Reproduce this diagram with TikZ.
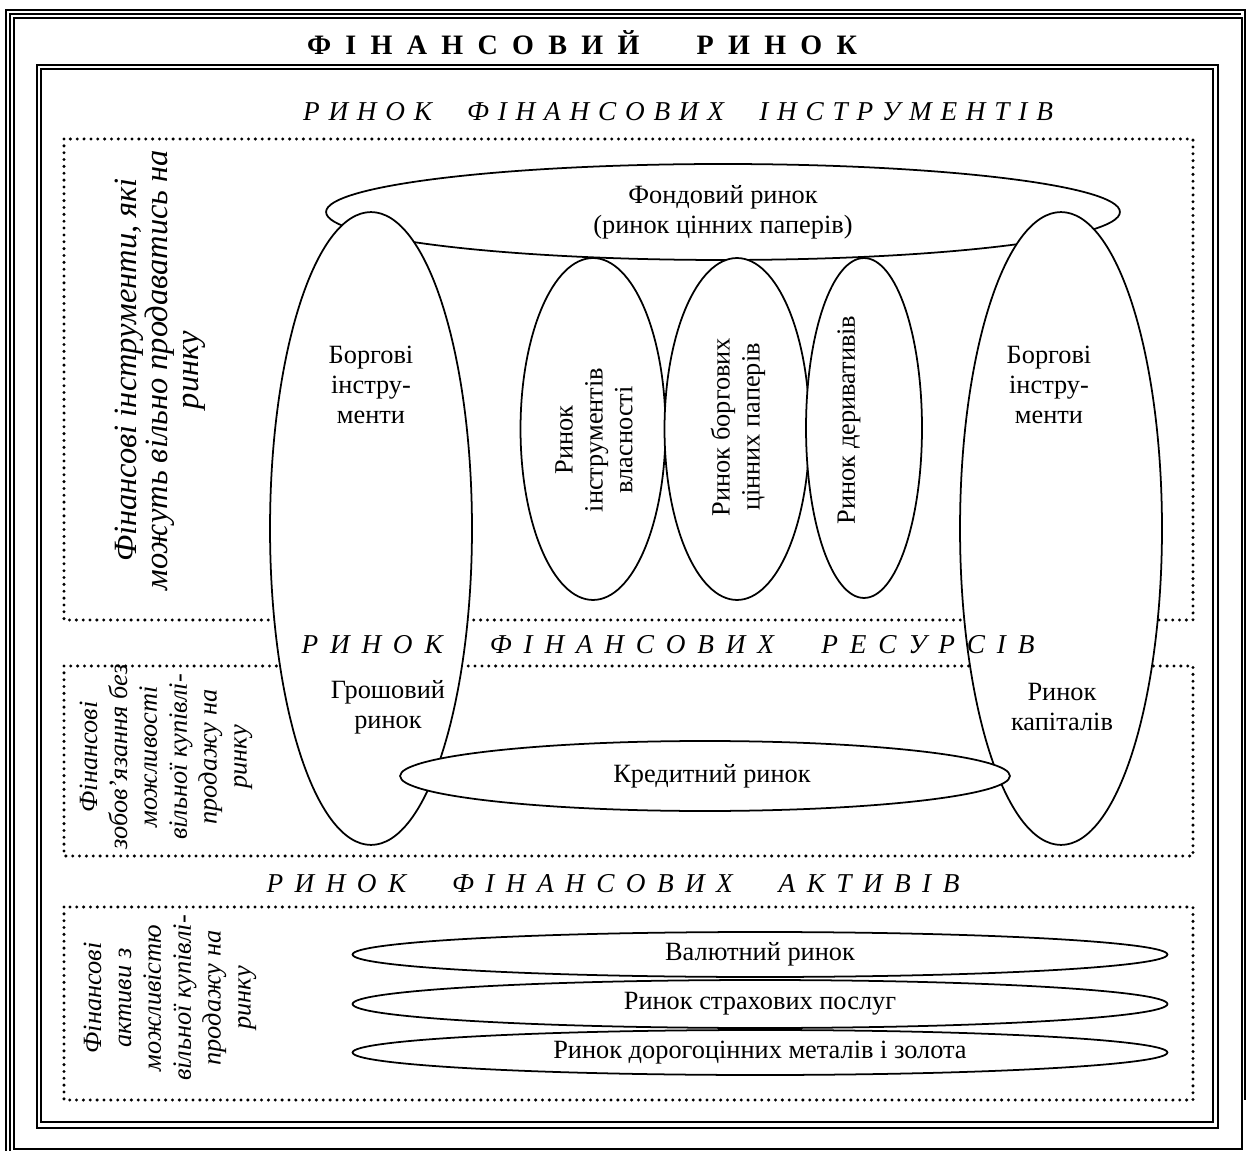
\documentclass[tikz,border=0pt]{standalone}
\usepackage{fontspec}
\setmainfont{Liberation Serif}
\usetikzlibrary{shapes.geometric}
\begin{document}
\begin{tikzpicture}[x=0.02cm,y=-0.02cm,
  every node/.style={font=\fontsize{15}{17}\selectfont},
  ell/.style={draw, fill=white, ellipse, line width=1pt, inner sep=0pt, outer sep=0pt},
  txt/.style={align=center, inner sep=0pt},
  vtxt/.style={align=center, inner sep=0pt, rotate=90},
  itxt/.style={align=center, inner sep=0pt, rotate=90, font=\fontsize{15}{17}\selectfont\itshape},
  dotbox/.style={line width=1.9pt, dash pattern=on 0pt off 3.9pt, line cap=round},
  hdr/.style={inner sep=0pt, font=\fontsize{15.5}{17}\selectfont\itshape},
  thickline/.style={line width=1.3pt},
  thinline/.style={line width=0.6pt}
]
\useasboundingbox (0,0) rectangle (1247,1151);
% outer frame
\draw[thickline] (6,1151) -- (6,10) -- (1245,10) -- (1245,1100);
\draw[thinline] (10,1151) -- (10,14) -- (1241,14);
\draw[thinline] (14,18) rectangle (1242,1149);
% inner frame
\draw[line width=1.5pt] (37,65) rectangle (1218,1128);
\draw[thinline] (41,69) rectangle (1213,1122);
% dotted boxes
\draw[dotbox] (64,139) rectangle (1193,620);
\draw[dotbox] (64,666) rectangle (1193,856);
\draw[dotbox] (64,907) rectangle (1193,1100);
% ellipses
\node[ell, minimum width=15.88cm, minimum height=1.92cm] (fond) at (723,212) {};
\node[ell, minimum width=4.04cm, minimum height=12.66cm] (bigl) at (371,528.5) {};
\node[ell, minimum width=4.04cm, minimum height=12.66cm] (bigr) at (1061,528.5) {};
\node[ell, minimum width=2.9cm, minimum height=6.84cm] (s1) at (593,429) {};
\node[ell, minimum width=2.9cm, minimum height=6.84cm] (s2) at (737,429) {};
\node[ell, minimum width=2.32cm, minimum height=6.8cm] (s3) at (864,428) {};
\node[ell, minimum width=12.2cm, minimum height=1.4cm] (kred) at (705,776) {};
\node[ell, minimum width=16.3cm, minimum height=0.9cm] (b1) at (760,954.5) {};
\node[ell, minimum width=16.3cm, minimum height=0.96cm] (b2) at (760,1004) {};
\node[ell, minimum width=16.3cm, minimum height=0.9cm] (b3) at (760,1052.5) {};
% titles
\node[inner sep=0pt, font=\fontsize{16}{17}\selectfont] (title) at (582,43) {\makebox[11cm][s]{\bfseries Ф І Н А Н С О В И Й\ \ \ \ Р И Н О К}};
\node[hdr] (h1) at (678,112) {\makebox[15cm][s]{Р И Н О К\ \ \ \ Ф І Н А Н С О В И Х\ \ \ \ І Н С Т Р У М Е Н Т І В}};
\node[hdr] (h2) at (668,645) {\makebox[14.66cm][s]{Р И Н О К\ \ \ \ Ф І Н А Н С О В И Х\ \ \ \ Р Е С У Р С І В}};
\node[hdr] (h3) at (613,884) {\makebox[13.86cm][s]{Р И Н О К\ \ \ \ Ф І Н А Н С О В И Х\ \ \ \ А К Т И В І В}};
% left rotated texts
\node[itxt, font=\fontsize{18.5}{17.6}\selectfont\itshape] (l1) at (160,370) {Фінансові інструменти, які\\можуть вільно продаватись на\\ринку};
\node[itxt] (l2) at (166,757) {Фінансові\\зобов’язання без\\можливості\\вільної купівлі-\\продажу на\\ринку};
\node[itxt] (l3) at (170,998) {Фінансові\\активи з\\можливістю\\вільної купівлі-\\продажу на\\ринку};
% texts in ellipses
\node[txt] (tfond) at (fond.center) {Фондовий ринок\\(ринок цінних паперів)};
\node[txt] (tbl) at (371,385) {Боргові\\інстру-\\менти};
\node[txt] (tbr) at (1049,385) {Боргові\\інстру-\\менти};
\node[vtxt] (ts1) at (594,440) {Ринок\\інструментів\\власності};
\node[vtxt] (ts2) at (738,427) {Ринок боргових\\цінних паперів};
\node[vtxt] (ts3) at (849,420) {Ринок деривативів};
\node[txt] (tgr) at (388,707) {Грошовий\\ринок};
\node[txt] (tkap) at (1062,707) {Ринок\\капіталів};
\node[txt] (tkred) at (712,776) {Кредитний ринок};
\node[txt] (tb1) at (b1.center) {Валютний ринок};
\node[txt] (tb2) at (b2.center) {Ринок страхових послуг};
\node[txt] (tb3) at (b3.center) {Ринок дорогоцінних металів і золота};
\end{tikzpicture}
\end{document}
